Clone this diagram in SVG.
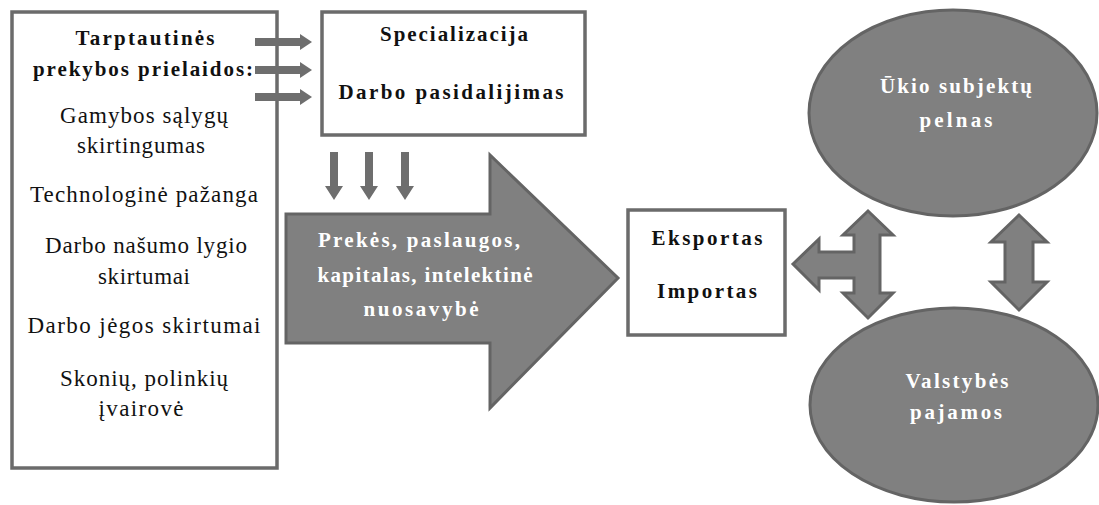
<svg xmlns="http://www.w3.org/2000/svg" width="1099" height="505" viewBox="0 0 1099 505">
<style>
.box{fill:#ffffff;stroke:#6b6b6b;stroke-width:3.5}
.shape{fill:#808080;stroke:#646464;stroke-width:3;stroke-linejoin:miter}
.sm{fill:#6e6e6e;stroke:none}
.b{font-family:'Liberation Serif','DejaVu Serif','Times New Roman',serif;font-weight:bold;font-size:21px;fill:#111;text-anchor:middle}
.r{font-family:'Liberation Serif','DejaVu Serif','Times New Roman',serif;font-size:23px;fill:#111;text-anchor:middle}
.w{font-family:'Liberation Serif','DejaVu Serif','Times New Roman',serif;font-weight:bold;font-size:21px;fill:#ffffff;text-anchor:middle}
</style>
<rect width="1099" height="505" fill="#ffffff"/>
<g id="prielaidos">
<rect class="box" x="12" y="12" width="265" height="456"/>
<text class="b" x="145" y="45" textLength="139" lengthAdjust="spacing">Tarptautinės</text>
<text class="b" x="143" y="76" textLength="220" lengthAdjust="spacing">prekybos prielaidos:</text>
<text class="r" x="144" y="123" textLength="168" lengthAdjust="spacing">Gamybos sąlygų</text>
<text class="r" x="141" y="153" textLength="128" lengthAdjust="spacing">skirtingumas</text>
<text class="r" x="144" y="202" textLength="228" lengthAdjust="spacing">Technologinė pažanga</text>
<text class="r" x="146" y="253" textLength="202" lengthAdjust="spacing">Darbo našumo lygio</text>
<text class="r" x="144" y="284" textLength="92" lengthAdjust="spacing">skirtumai</text>
<text class="r" x="144" y="333" textLength="233" lengthAdjust="spacing">Darbo jėgos skirtumai</text>
<text class="r" x="144" y="386" textLength="168" lengthAdjust="spacing">Skonių, polinkių</text>
<text class="r" x="141" y="416" textLength="85" lengthAdjust="spacing">įvairovė</text>
</g>
<g id="specializacija">
<rect class="box" x="322" y="12" width="263" height="123"/>
<text class="b" x="454" y="41" textLength="148" lengthAdjust="spacing">Specializacija</text>
<text class="b" x="451" y="99" textLength="225" lengthAdjust="spacing">Darbo pasidalijimas</text>
</g>
<g id="srautai">
<polygon class="shape" points="286,214 490,214 490,155 618,278 490,408 490,343 286,343"/>
<text class="w" x="419" y="247" textLength="202" lengthAdjust="spacing">Prekės, paslaugos,</text>
<text class="w" x="425" y="282" textLength="215" lengthAdjust="spacing">kapitalas, intelektinė</text>
<text class="w" x="421" y="316" textLength="115" lengthAdjust="spacing">nuosavybė</text>
</g>
<g id="eksportas">
<rect class="box" x="628" y="210" width="157" height="125"/>
<text class="b" x="707" y="245" textLength="111" lengthAdjust="spacing">Eksportas</text>
<text class="b" x="707" y="298" textLength="100" lengthAdjust="spacing">Importas</text>
</g>
<g id="pelnas">
<ellipse class="shape" cx="953" cy="113" rx="144" ry="103"/>
<text class="w" x="956" y="93" textLength="152" lengthAdjust="spacing">Ūkio subjektų</text>
<text class="w" x="956" y="127" textLength="73" lengthAdjust="spacing">pelnas</text>
</g>
<g id="pajamos">
<ellipse class="shape" cx="954" cy="405" rx="144" ry="97"/>
<text class="w" x="957" y="388" textLength="103" lengthAdjust="spacing">Valstybės</text>
<text class="w" x="956" y="419" textLength="92" lengthAdjust="spacing">pajamos</text>
</g>
<g id="connectors">
<polygon class="sm" points="255,38 300,38 300,34 312,42 300,50 300,46 255,46"/>
<polygon class="sm" points="255,66 300,66 300,62 312,70 300,78 300,74 255,74"/>
<polygon class="sm" points="255,93 300,93 300,89 312,97 300,105 300,101 255,101"/>
<polygon class="sm" points="330,152 338,152 338,186 343,186 334,200 325,186 330,186"/>
<polygon class="sm" points="365,152 373,152 373,186 378,186 369,200 360,186 365,186"/>
<polygon class="sm" points="401,152 409,152 409,186 414,186 405,200 396,186 401,186"/>
<polygon class="shape" points="793,264 819,239 819,252 854,252 854,235 843,235 868,211 893,235 880,235 880,293 893,293 868,318 843,293 854,293 854,278 819,278 819,290"/>
<polygon class="shape" points="1019,215 1047,242 1033,242 1033,282 1047,282 1019,310 991,282 1005,282 1005,242 991,242"/>
</g>
</svg>
